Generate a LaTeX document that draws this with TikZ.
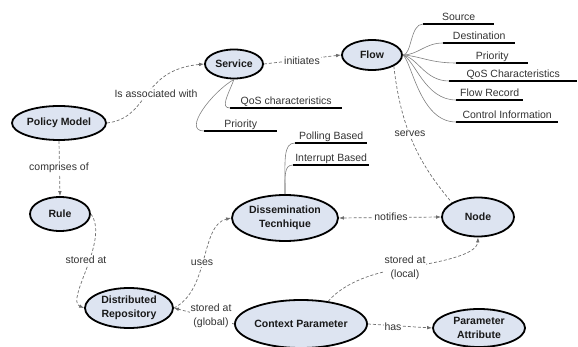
\documentclass[tikz,border=0pt]{standalone}
\usepackage{fontspec}
\setmainfont{Liberation Sans}
\usetikzlibrary{shapes.geometric,arrows.meta}
\definecolor{bubble}{HTML}{DDE4F1}
\definecolor{linkgray}{HTML}{6E6E6E}
\definecolor{txtgray}{HTML}{333333}
\begin{document}
\begin{tikzpicture}[x=1pt,y=-1pt,
  concept/.style={ellipse, draw=black, line width=1.8pt, fill=bubble, inner sep=0pt,
    font=\fontsize{10.5}{13.5}\selectfont\bfseries, text=black!90, align=center},
  link/.style={draw=linkgray, line width=0.7pt, dash pattern=on 3pt off 2pt},
  tip/.style={-{Latex[length=5pt,width=3.6pt]}},
  bitip/.style={{Latex[length=5pt,width=3.6pt]}-{Latex[length=5pt,width=3.6pt]}},
  lbl/.style={fill=white, inner sep=1pt, font=\fontsize{10.5}{13.5}\selectfont,
    text=txtgray, align=center},
  attr/.style={anchor=south west, inner xsep=0pt, inner ysep=1.5pt, text height=8pt,
    text depth=2.2pt, font=\fontsize{10.5}{12}\selectfont, text=txtgray},
  uline/.style={line width=1.8pt, draw=black},
  branch/.style={draw=gray, line width=0.6pt},
]
\useasboundingbox (0,0) rectangle (578,347);

% concepts
\node[concept, minimum width=94pt, minimum height=34pt] (pm)   at (59,123)  {Policy Model};
\node[concept, minimum width=58pt, minimum height=29pt] (svc)  at (234,64)  {Service};
\node[concept, minimum width=60pt, minimum height=30pt] (flow) at (372,55)  {Flow};
\node[concept, minimum width=60pt, minimum height=34pt] (rule) at (60,214)  {Rule};
\node[concept, minimum width=88pt, minimum height=40pt] (dr)   at (129,308) {Distributed\\Repository};
\node[concept, minimum width=106pt, minimum height=46pt] (diss) at (285,218) {Dissemination\\Tecnhique};
\node[concept, minimum width=72pt, minimum height=39pt] (nd)   at (478,217) {Node};
\node[concept, minimum width=108pt, minimum height=48pt] (cp)  at (301,324) {Context Parameter};
\node[concept, minimum width=92pt, minimum height=38pt] (pa)   at (479,328) {Parameter\\Attribute};

% attributes of Flow
\node[attr, minimum width=71pt]  (fsrc) at (423,24)  {Source};
\node[attr, minimum width=72pt]  (fdst) at (443,43)  {Destination};
\node[attr, minimum width=72pt]  (fpri) at (456,63)  {Priority};
\node[attr, minimum width=128pt] (fqos) at (449,81)  {QoS Characteristics};
\node[attr, minimum width=67pt]  (frec) at (456,100) {Flow Record};
\node[attr, minimum width=102pt] (fctl) at (456,122) {Control Information};

% attributes of Service
\node[attr, minimum width=112pt] (sqos) at (230,108) {QoS characteristics};
\node[attr, minimum width=73pt]  (spri) at (204,131) {Priority};

% attributes of Dissemination Tecnhique
\node[attr, minimum width=72pt]  (dpol) at (295,143) {Polling Based};
\node[attr, minimum width=76pt]  (dint) at (293,165) {Interrupt Based};

\foreach \a in {fsrc,fdst,fpri,fqos,frec,fctl,sqos,spri,dpol,dint}
  \draw[uline] (\a.south west) -- (\a.south east);

% branches to the attributes
\draw[branch] (flow.east) .. controls (412,55) and (410,24) .. (fsrc.south west);
\draw[branch] (flow.east) .. controls (418,55) and (425,43) .. (fdst.south west);
\draw[branch] (flow.east) .. controls (420,56) and (430,63) .. (fpri.south west);
\draw[branch] (flow.east) .. controls (418,58) and (425,81) .. (fqos.south west);
\draw[branch] (flow.east) .. controls (415,60) and (425,100) .. (frec.south west);
\draw[branch] (flow.east) .. controls (412,62) and (420,122) .. (fctl.south west);
\draw[branch] (svc.south) .. controls (228,95) and (220,108) .. (sqos.south west);
\draw[branch] (svc.south) .. controls (212,92) and (182,131) .. (spri.south west);
\draw[branch] (diss.north) .. controls (285,160) and (283,143) .. (dpol.south west);
\draw[branch] (diss.north) .. controls (285,175) and (284,165) .. (dint.south west);

% relations
\draw[link,tip] (pm.east) .. controls (150,118) and (140,70) .. (svc.west);
\node[lbl] (lassoc) at (156,94) {Is associated with};

\draw[link,tip] (svc.east) -- (flow.west);
\node[lbl] (linit) at (302,61) {initiates};

\draw[link,tip] (pm.south) -- (rule.north);
\node[lbl] (lcomp) at (59,168) {comprises of};

\draw[link,tip] (rule.east) .. controls (110,240) and (65,300) .. (dr.west);
\node[lbl] (lstore) at (86,260) {stored at};

\draw[link,tip] (dr.east) .. controls (210,290) and (200,225) .. (diss.west);
\node[lbl] (luses) at (202,263) {uses};

\draw[link,tip] (cp.west) -- (dr.east);
\node[lbl] (lglobal) at (211,316) {stored at\\(global)};

\draw[link,bitip] (diss.east) -- (nd.west);
\node[lbl] (lnotif) at (391,217) {notifies};

\draw[link] (flow.south east) .. controls (401,130) and (420,165) .. (nd.north west);
\node[lbl] (lserves) at (410,134) {serves};

\draw[link,tip] (cp.40) .. controls (345,282) and (375,272) .. (405,268)
  .. controls (440,262) and (477,255) .. (nd.south);
\node[lbl] (llocal) at (405,268) {stored at\\(local)};

\draw[link,tip] (cp.east) -- (pa.west);
\node[lbl] (lhas) at (393,327) {has};
\end{tikzpicture}
\end{document}
